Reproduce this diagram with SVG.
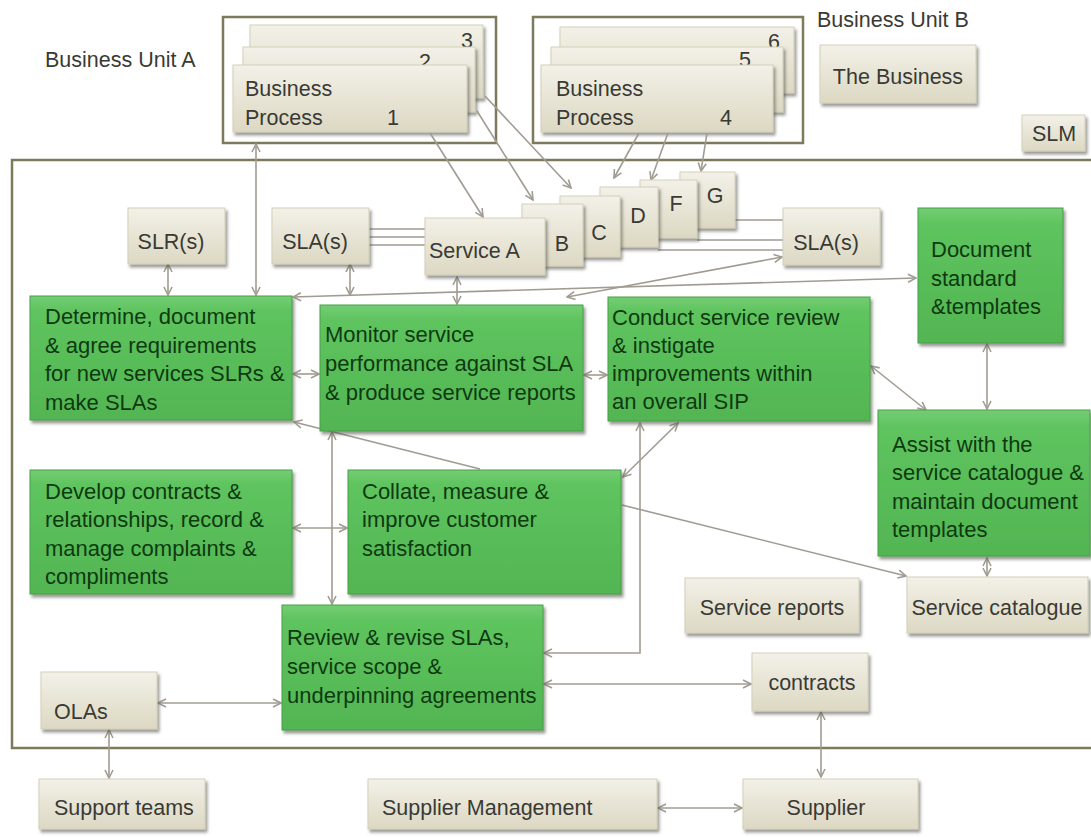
<svg xmlns="http://www.w3.org/2000/svg" width="1091" height="837" viewBox="0 0 1091 837">
<defs>
<linearGradient id="gBeige" x1="0" y1="0" x2="0" y2="1">
<stop offset="0" stop-color="#f3f1e8"/>
<stop offset="1" stop-color="#dcd8c3"/>
</linearGradient>
<linearGradient id="gGreen" x1="0" y1="0" x2="0" y2="1">
<stop offset="0" stop-color="#74cd74"/>
<stop offset="0.12" stop-color="#5ec45e"/>
<stop offset="1" stop-color="#52b552"/>
</linearGradient>
<filter id="sh" x="-10%" y="-10%" width="130%" height="150%">
<feDropShadow dx="2" dy="3" stdDeviation="1.5" flood-color="#4a4a40" flood-opacity="0.55"/>
</filter>
<marker id="ar" viewBox="0 0 10 10" refX="9" refY="5" markerWidth="10" markerHeight="10" markerUnits="userSpaceOnUse" orient="auto-start-reverse">
<path d="M1,1 L9,5 L1,9" fill="none" stroke="#a19c92" stroke-width="1.6"/>
</marker>
<style>
.frame{fill:none;stroke:#7d7a5c;stroke-width:2.5}
.beige{fill:url(#gBeige);stroke:#d3cfba;stroke-width:1;filter:url(#sh)}
.green{fill:url(#gGreen);stroke:#49a049;stroke-width:1;filter:url(#sh)}
.t{font-family:"Liberation Sans",Arial,sans-serif;font-size:22px;fill:#0f3a11}
.tb{font-family:"Liberation Sans",Arial,sans-serif;font-size:21.5px;fill:#3a3a34}
.m{text-anchor:middle}
.c{fill:none;stroke:#a19c92;stroke-width:1.6}
.d{marker-start:url(#ar);marker-end:url(#ar)}
.e{marker-end:url(#ar)}
</style>
</defs>
<rect width="1091" height="837" fill="#ffffff"/>

<g id="frames">
<rect class="frame" x="12" y="160" width="1082" height="588"/>
<rect class="frame" x="223" y="17" width="273" height="126"/>
<rect class="frame" x="533" y="17" width="270" height="126"/>
</g>

<g id="labels">
<text class="tb" x="45" y="67">Business Unit A</text>
<text class="tb" x="817" y="27">Business Unit B</text>
</g>

<g id="bu-a-processes">
<rect class="beige" x="250" y="25" width="233" height="73"/>
<text class="tb m" x="467" y="48">3</text>
<rect class="beige" x="243" y="47" width="232" height="65"/>
<text class="tb m" x="425" y="69">2</text>
<rect class="beige" x="233" y="65" width="234" height="67"/>
<text class="tb" x="245" y="96">Business</text>
<text class="tb" x="245" y="125">Process</text>
<text class="tb m" x="393" y="125">1</text>
</g>

<g id="bu-b-processes">
<rect class="beige" x="560" y="27" width="234" height="66"/>
<text class="tb m" x="774" y="49">6</text>
<rect class="beige" x="551" y="47" width="232" height="65"/>
<text class="tb m" x="745" y="67">5</text>
<rect class="beige" x="541" y="65" width="232" height="67"/>
<text class="tb" x="556" y="96">Business</text>
<text class="tb" x="556" y="125">Process</text>
<text class="tb m" x="726" y="125">4</text>
</g>

<g id="the-business">
<rect class="beige" x="820" y="45" width="156" height="58"/>
<text class="tb m" x="898" y="84">The Business</text>
</g>
<g id="slm">
<rect class="beige" x="1022" y="115" width="63" height="36"/>
<text class="tb m" x="1054" y="141">SLM</text>
</g>

<g id="connectors">
<path class="c" d="M369,229 H425 M369,237 H425 M369,245 H425"/>
<path class="c" d="M735,220 H783 M697,240 H783 M658,250 H783"/>
<path class="c d" d="M256,144 V295"/>
<path class="c e" d="M430,133 L483,217"/>
<path class="c e" d="M477,111 L533,200"/>
<path class="c e" d="M485,96 L571,188"/>
<path class="c e" d="M639,133 L614,178"/>
<path class="c e" d="M668,133 L651,180"/>
<path class="c e" d="M707,133 L701,171"/>
<path class="c d" d="M168,264 V295"/>
<path class="c d" d="M350,264 V295"/>
<path class="c d" d="M457,277 V304"/>
<path class="c d" d="M293,297 L916,278"/>
<path class="c d" d="M567,297 L782,257"/>
<path class="c d" d="M293,374 H319"/>
<path class="c d" d="M584,375 H607"/>
<path class="c d" d="M871,366 L926,410"/>
<path class="c d" d="M987,344 V409"/>
<path class="c d" d="M987,558 V576"/>
<path class="c e" d="M622,505 L906,576"/>
<path class="c e" d="M480,469 L294,422"/>
<path class="c d" d="M332,432 V604"/>
<path class="c d" d="M293,528 H347"/>
<path class="c d" d="M678,423 L623,477"/>
<path class="c d" d="M640,423 V653 H544"/>
<path class="c d" d="M544,684 H751"/>
<path class="c d" d="M158,703 H281"/>
<path class="c d" d="M109,730 V778"/>
<path class="c d" d="M821,712 V777"/>
<path class="c d" d="M658,808 H742"/>
</g>

<g id="slrs">
<rect class="beige" x="128" y="208" width="97" height="56"/>
<text class="tb m" x="171" y="249">SLR(s)</text>
</g>
<g id="slas-left">
<rect class="beige" x="272" y="208" width="97" height="56"/>
<text class="tb m" x="315" y="249">SLA(s)</text>
</g>

<g id="services">
<rect class="beige" x="680" y="172" width="55" height="56"/>
<text class="tb m" x="715" y="203">G</text>
<rect class="beige" x="640" y="180" width="57" height="58"/>
<text class="tb m" x="676" y="211">F</text>
<rect class="beige" x="600" y="187" width="58" height="60"/>
<text class="tb m" x="638" y="223">D</text>
<rect class="beige" x="560" y="196" width="60" height="61"/>
<text class="tb m" x="599" y="240">C</text>
<rect class="beige" x="522" y="204" width="61" height="62"/>
<text class="tb m" x="562" y="251">B</text>
<rect class="beige" x="425" y="218" width="120" height="57"/>
<text class="tb" x="429" y="258">Service A</text>
</g>

<g id="slas-right">
<rect class="beige" x="783" y="208" width="97" height="57"/>
<text class="tb m" x="826" y="250">SLA(s)</text>
</g>

<g id="determine">
<rect class="green" x="30" y="296" width="262" height="124"/>
<text class="t" x="45" y="324">Determine, document</text>
<text class="t" x="45" y="353">&amp; agree requirements</text>
<text class="t" x="45" y="381">for new services SLRs &amp;</text>
<text class="t" x="45" y="410">make SLAs</text>
</g>
<g id="monitor">
<rect class="green" x="320" y="305" width="263" height="126"/>
<text class="t" x="325" y="342">Monitor service</text>
<text class="t" x="325" y="371">performance against SLA</text>
<text class="t" x="325" y="400">&amp; produce service reports</text>
</g>
<g id="conduct">
<rect class="green" x="608" y="297" width="262" height="124"/>
<text class="t" x="612" y="325">Conduct service review</text>
<text class="t" x="612" y="353">&amp; instigate</text>
<text class="t" x="612" y="381">improvements within</text>
<text class="t" x="612" y="409">an overall SIP</text>
</g>
<g id="document-standard">
<rect class="green" x="918" y="208" width="145" height="135"/>
<text class="t" x="931" y="257">Document</text>
<text class="t" x="931" y="286">standard</text>
<text class="t" x="931" y="314">&amp;templates</text>
</g>
<g id="assist">
<rect class="green" x="878" y="410" width="212" height="146"/>
<text class="t" x="892" y="452">Assist with the</text>
<text class="t" x="892" y="480">service catalogue &amp;</text>
<text class="t" x="892" y="509">maintain document</text>
<text class="t" x="892" y="537">templates</text>
</g>
<g id="develop">
<rect class="green" x="30" y="470" width="262" height="124"/>
<text class="t" x="45" y="499">Develop contracts &amp;</text>
<text class="t" x="45" y="527">relationships, record &amp;</text>
<text class="t" x="45" y="556">manage complaints &amp;</text>
<text class="t" x="45" y="584">compliments</text>
</g>
<g id="collate">
<rect class="green" x="348" y="470" width="273" height="124"/>
<text class="t" x="362" y="499">Collate, measure &amp;</text>
<text class="t" x="362" y="527">improve customer</text>
<text class="t" x="362" y="556">satisfaction</text>
</g>
<g id="review">
<rect class="green" x="282" y="605" width="261" height="125"/>
<text class="t" x="287" y="645">Review &amp; revise SLAs,</text>
<text class="t" x="287" y="674">service scope &amp;</text>
<text class="t" x="287" y="703">underpinning agreements</text>
</g>

<g id="service-reports">
<rect class="beige" x="685" y="578" width="174" height="55"/>
<text class="tb m" x="772" y="615">Service reports</text>
</g>
<g id="service-catalogue">
<rect class="beige" x="907" y="577" width="181" height="56"/>
<text class="tb m" x="997" y="615">Service catalogue</text>
</g>
<g id="contracts">
<rect class="beige" x="752" y="653" width="116" height="58"/>
<text class="tb m" x="812" y="690">contracts</text>
</g>
<g id="olas">
<rect class="beige" x="41" y="672" width="116" height="57"/>
<text class="tb" x="54" y="719">OLAs</text>
</g>
<g id="support-teams">
<rect class="beige" x="39" y="779" width="166" height="50"/>
<text class="tb" x="54" y="815">Support teams</text>
</g>
<g id="supplier-management">
<rect class="beige" x="368" y="779" width="289" height="50"/>
<text class="tb" x="382" y="815">Supplier Management</text>
</g>
<g id="supplier">
<rect class="beige" x="743" y="779" width="175" height="50"/>
<text class="tb m" x="826" y="815">Supplier</text>
</g>
</svg>
